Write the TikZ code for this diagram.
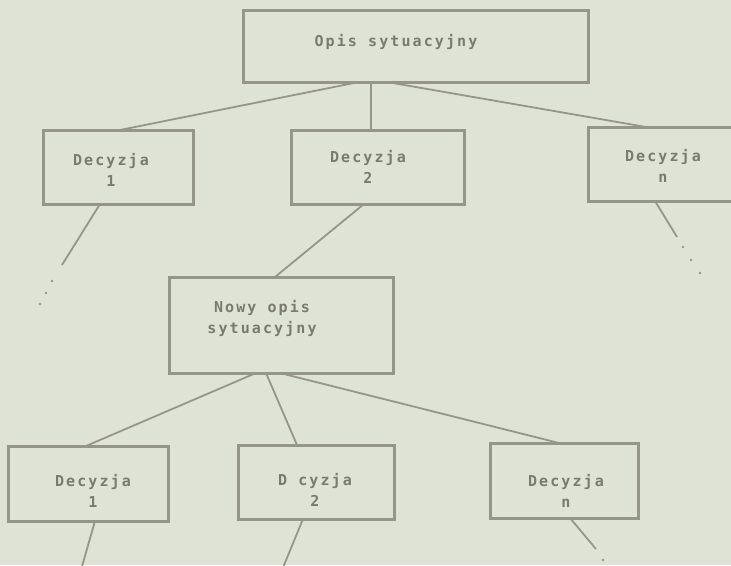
\documentclass[tikz,border=0pt]{standalone}
\usepackage{fontspec}
\newfontfamily\typewriter{DejaVu Sans Mono}[LetterSpace=14]
\definecolor{paper}{RGB}{223,227,214}
\definecolor{ink}{RGB}{150,150,136}
\definecolor{type}{RGB}{122,122,110}
\begin{document}
\begin{tikzpicture}[x=1pt,y=-1pt,
  box/.style={rectangle, draw=ink, line width=3pt, inner sep=0pt, outer sep=0pt},
  txt/.style={text=type, font=\typewriter\bfseries\fontsize{15}{21}\selectfont,
              align=center, inner sep=0pt},
  link/.style={draw=ink, line width=1.8pt},
  dotfill/.style={fill=ink}]
% page and background
\useasboundingbox (0,0) rectangle (731,565);
\fill[paper] (0,0) rectangle (731,565);
\clip (0,0) rectangle (731,565);

% first level
\node[box, minimum width=345pt, minimum height=72pt,
      label={[txt, xshift=-19.5pt, yshift=4pt]center:Opis sytuacyjny}]
      (top) at (415.5,46) {};
\node[box, minimum width=150pt, minimum height=74pt,
      label={[txt, xshift=-7pt, yshift=-3pt]center:{Decyzja\\1}}]
      (d1) at (118,167) {};
\node[box, minimum width=173pt, minimum height=74pt,
      label={[txt, xshift=-9.5pt]center:{Decyzja\\2}}]
      (d2) at (377.5,167) {};
\node[box, minimum width=150pt, minimum height=74pt,
      label={[txt, yshift=-2pt]center:{Decyzja\\n}}]
      (dn) at (663,164) {};

% second level
\node[box, minimum width=224pt, minimum height=96pt,
      label={[txt, xshift=-19pt, yshift=7pt]center:{Nowy opis\\sytuacyjny}}]
      (nowy) at (281,325) {};
\node[box, minimum width=160pt, minimum height=75pt,
      label={[txt, xshift=5pt, yshift=-7pt]center:{Decyzja\\1}}]
      (b1) at (88,483.5) {};
\node[box, minimum width=156pt, minimum height=74pt,
      label={[txt, xshift=-1pt, yshift=-8pt]center:{D cyzja\\2}}]
      (b2) at (316,482) {};
\node[box, minimum width=148pt, minimum height=75pt,
      label={[txt, xshift=2pt, yshift=-10pt]center:{Decyzja\\n}}]
      (bn) at (564,480.5) {};

% loose ends of the branches
\coordinate (e1) at (62,265);
\coordinate (e2) at (677,237);
\coordinate (e3) at (81,570);
\coordinate (e4) at (282,570);
\coordinate (e5) at (596,549);

% branches
\draw[link] ([xshift=-56.5pt]top.south) -- ([xshift=2pt]d1.north);
\draw[link] ([xshift=-44.5pt]top.south) -- ([xshift=-6.5pt]d2.north);
\draw[link] ([xshift=-28.5pt]top.south) -- ([xshift=-17pt]dn.north);
\draw[link] ([xshift=-13.5pt]d2.south) -- ([xshift=-6pt]nowy.north);
\draw[link] ([xshift=-18pt]d1.south) -- (e1);
\draw[link] ([xshift=-8pt]dn.south) -- (e2);
\draw[link] ([xshift=-25pt]nowy.south) -- ([xshift=-2pt]b1.north);
\draw[link] ([xshift=-15pt]nowy.south) -- ([xshift=-19pt]b2.north);
\draw[link] ([xshift=-1pt]nowy.south) -- ([xshift=-5pt]bn.north);
\draw[link] ([xshift=7pt]b1.south) -- (e3);
\draw[link] ([xshift=-13pt]b2.south) -- (e4);
\draw[link] ([xshift=6pt]bn.south) -- (e5);

% continuation dots
\foreach \p in {(52,281),(46,293),(40,304),
                (683,247),(691,260),(700,273),
                (603,560)}
  \fill[dotfill] \p circle (1.4pt);
\end{tikzpicture}
\end{document}
